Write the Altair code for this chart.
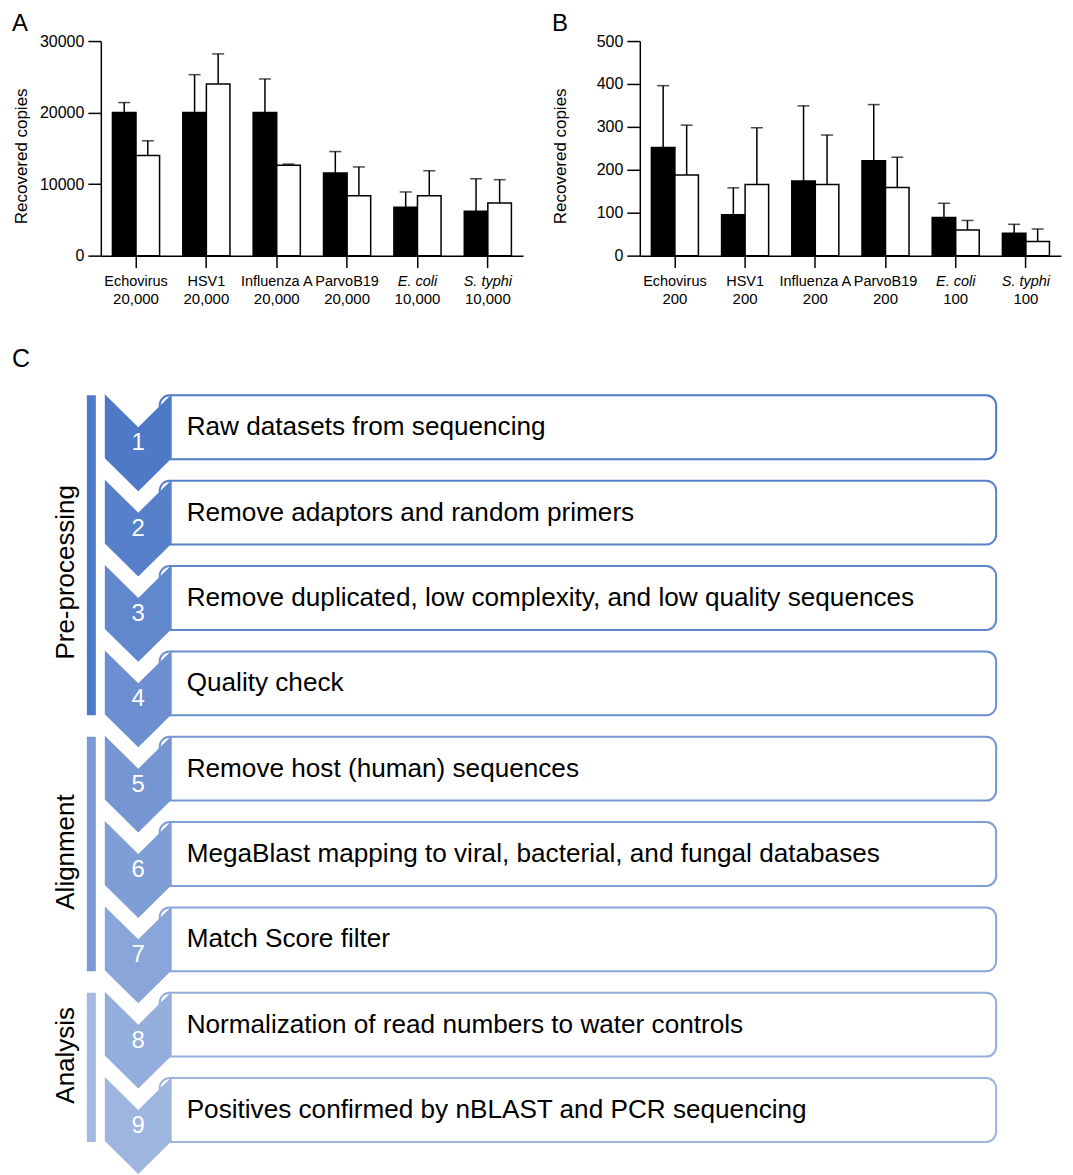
import altair as alt
import pandas as pd

FONT = "Liberation Sans, Arial, Helvetica, sans-serif"

# ---------------- data: panels A and B ----------------
names = ["Echovirus", "HSV1", "Influenza A", "ParvoB19", "E. coli", "S. typhi"]
italic_names = ["E. coli", "S. typhi"]
series = ["solid", "open"]

a_inputs = ["20,000", "20,000", "20,000", "20,000", "10,000", "10,000"]
a_black = [20000, 20000, 20000, 11550, 6750, 6200]
a_black_err = [21400, 25300, 24700, 14550, 8900, 10750]
a_white = [14000, 24000, 12650, 8370, 8370, 7350]
a_white_err = [16050, 28200, 12800, 12400, 11870, 10620]

b_inputs = ["200", "200", "200", "200", "100", "100"]
b_black = [252, 95, 174, 221, 89, 52]
b_black_err = [396, 158, 349, 352, 122, 73]
b_white = [188, 166, 166, 159, 60, 33]
b_white_err = [304, 298, 281, 229, 82, 62]

# ---------------- data: panel C ----------------
steps = [
    "Raw datasets from sequencing",
    "Remove adaptors and random primers",
    "Remove duplicated, low complexity, and low quality sequences",
    "Quality check",
    "Remove host (human) sequences",
    "MegaBlast mapping to viral, bacterial, and fungal databases",
    "Match Score filter",
    "Normalization of read numbers to water controls",
    "Positives confirmed by nBLAST and PCR sequencing",
]
step_colors = ["#4D79C7", "#5780CA", "#6188CD", "#6B8FD0", "#7596D3",
               "#7F9ED6", "#89A5D9", "#93ADDC", "#9EB5E0"]
stages = ["Pre-processing", "Alignment", "Analysis"]
stage_first = [1, 5, 8]
stage_last = [4, 7, 9]
stage_colors = ["#4E7AC7", "#7A99D5", "#A3B8E2"]

# ---------------- layout constants ----------------
PLOT_H = 215
LETTER_DY = -29.5
COUNT_Y = 263.5

C_X0, C_X1 = 101, 1000
C_Y0, C_Y1 = 340, 1175
TOP0, GAP, BOX_H = 396, 85.5, 64
CHEV_L, CHEV_R, NOTCH = 105, 172, 33
BOX_L, BOX_R = 160, 998
TEXT_X = 187
BAR_L, BAR_R = 87, 96
LABEL_X = 66
LABEL_DY = [17, -2, -12]

italic_test = " || ".join("datum.value == '%s'" % n for n in italic_names)


def bar_panel(letter, letter_dx, inputs, black, black_err, white, white_err, ymax, ystep, width):
    rows = []
    for n, b, be, w, we in zip(names, black, black_err, white, white_err):
        rows.append({"name": n, "series": "solid", "value": b, "upper": be})
        rows.append({"name": n, "series": "open", "value": w, "upper": we})
    df = pd.DataFrame(rows)

    xenc = alt.X(
        "name:N", sort=names,
        scale=alt.Scale(paddingInner=0.33, paddingOuter=0.165),
        axis=alt.Axis(
            title=None, labelAngle=0, labelFontSize=14.5, labelPadding=7, tickSize=12,
            labelFont=FONT,
            labelFontStyle={"condition": {"test": italic_test, "value": "italic"}, "value": "normal"},
        ),
    )
    xo = alt.XOffset("series:N", sort=series,
                     scale=alt.Scale(domain=series, paddingInner=0, paddingOuter=0))
    yenc = alt.Y(
        "value:Q",
        scale=alt.Scale(domain=[0, ymax], nice=False, zero=True),
        axis=alt.Axis(
            title="Recovered copies", values=list(range(0, ymax + 1, ystep)), format="d",
            grid=False, tickSize=13, labelPadding=4, labelFontSize=16, labelFont=FONT,
            titleFontSize=17, titleFontWeight="normal", titleFont=FONT,
            titleX=-79, titleY=115, titleAngle=270, titleBaseline="middle", titleAlign="center",
        ),
    )
    base = alt.Chart(df)
    bars = base.mark_bar(stroke="black", strokeWidth=1.5).encode(
        x=xenc, xOffset=xo, y=yenc,
        fill=alt.Fill("series:N", scale=alt.Scale(domain=series, range=["black", "white"]), legend=None),
    )
    xs = alt.X("name:N", sort=names)
    err = base.mark_rule(color="black", strokeWidth=1.5).encode(
        x=xs, xOffset=alt.XOffset("series:N", sort=series), y="value:Q", y2="upper:Q"
    )
    caps = base.mark_tick(color="black", thickness=1.5, size=12).encode(
        x=xs, xOffset=alt.XOffset("series:N", sort=series), y="upper:Q"
    )
    cnt = alt.Chart(pd.DataFrame({"name": names, "input": inputs})).mark_text(
        fontSize=15, baseline="alphabetic", font=FONT, color="black"
    ).encode(x=xs, y=alt.value(COUNT_Y), text="input:N")
    let = alt.Chart(pd.DataFrame({"t": [letter]})).mark_text(
        fontSize=24, align="left", baseline="top", font=FONT, color="black"
    ).encode(x=alt.value(letter_dx), y=alt.value(LETTER_DY), text="t:N")
    return alt.layer(bars, err, caps, cnt, let).properties(width=width, height=PLOT_H)


panel_a = bar_panel("A", -89, a_inputs, a_black, a_black_err, a_white, a_white_err, 30000, 10000, 423)
panel_b = bar_panel("B", -88, b_inputs, b_black, b_black_err, b_white, b_white_err, 500, 100, 422)

# ---------------- panel C (flow chart) ----------------
xs_c = alt.Scale(domain=[C_X0, C_X1], nice=False, zero=False)
ys_c = alt.Scale(domain=[C_Y0, C_Y1], nice=False, zero=False, reverse=True)

step_ids = [str(i + 1) for i in range(len(steps))]
tops = [TOP0 + GAP * i for i in range(len(steps))]

box_df = pd.DataFrame({
    "step": step_ids, "text": steps,
    "x": BOX_L, "x2": BOX_R,
    "y": tops, "y2": [t + BOX_H for t in tops],
    "ty": [t + 32 for t in tops], "ny": [t + 48 for t in tops],
    "tx": TEXT_X, "nx": (CHEV_L + CHEV_R) / 2,
})

chev_rows = []
for sid, t in zip(step_ids, tops):
    chev_rows.append({"step": sid, "x": CHEV_L, "y": t - 1, "y2": t + 63})
    chev_rows.append({"step": sid, "x": (CHEV_L + CHEV_R) / 2, "y": t - 1 + NOTCH, "y2": t + 63 + NOTCH})
    chev_rows.append({"step": sid, "x": CHEV_R, "y": t - 1, "y2": t + 63})
chev_df = pd.DataFrame(chev_rows)

stage_df = pd.DataFrame({
    "stage": stages,
    "x": BAR_L, "x2": BAR_R,
    "y": [TOP0 + GAP * (f - 1) for f in stage_first],
    "y2": [TOP0 + GAP * (l - 1) + BOX_H for l in stage_last],
})
stage_df["ly"] = (stage_df["y"] + stage_df["y2"]) / 2 + LABEL_DY
stage_df["lx"] = LABEL_X

step_color_scale = alt.Scale(domain=step_ids, range=step_colors)

boxes = alt.Chart(box_df).mark_rect(cornerRadius=10, fill="white", strokeWidth=2).encode(
    x=alt.X("x:Q", scale=xs_c, axis=None), x2="x2:Q",
    y=alt.Y("y:Q", scale=ys_c, axis=None), y2="y2:Q",
    stroke=alt.Stroke("step:N", scale=step_color_scale, legend=None),
)
chevrons = alt.Chart(chev_df).mark_area(strokeWidth=0, opacity=1).encode(
    x=alt.X("x:Q", scale=xs_c, axis=None),
    y=alt.Y("y:Q", scale=ys_c, axis=None), y2="y2:Q",
    color=alt.Color("step:N", scale=step_color_scale, legend=None),
    detail="step:N",
)
numbers = alt.Chart(box_df).mark_text(fontSize=24, color="white", font=FONT, baseline="middle").encode(
    x=alt.X("nx:Q", scale=xs_c, axis=None), y=alt.Y("ny:Q", scale=ys_c, axis=None), text="step:N"
)
texts = alt.Chart(box_df).mark_text(fontSize=26.2, color="black", font=FONT, align="left", baseline="middle").encode(
    x=alt.X("tx:Q", scale=xs_c, axis=None), y=alt.Y("ty:Q", scale=ys_c, axis=None), text="text:N"
)
stage_bars = alt.Chart(stage_df).mark_rect().encode(
    x=alt.X("x:Q", scale=xs_c, axis=None), x2="x2:Q",
    y=alt.Y("y:Q", scale=ys_c, axis=None), y2="y2:Q",
    fill=alt.Fill("stage:N", scale=alt.Scale(domain=stages, range=stage_colors), legend=None),
)
stage_labels = alt.Chart(stage_df).mark_text(
    fontSize=26, color="black", font=FONT, angle=270, align="center", baseline="middle"
).encode(
    x=alt.X("lx:Q", scale=xs_c, axis=None), y=alt.Y("ly:Q", scale=ys_c, axis=None), text="stage:N"
)
c_letter = alt.Chart(pd.DataFrame({"t": ["C"], "x": [12], "y": [348]})).mark_text(
    fontSize=25, color="black", font=FONT, align="left", baseline="top"
).encode(x=alt.X("x:Q", scale=xs_c, axis=None), y=alt.Y("y:Q", scale=ys_c, axis=None), text="t:N")

panel_c = alt.layer(boxes, chevrons, numbers, texts, stage_bars, stage_labels, c_letter).properties(
    width=C_X1 - C_X0, height=C_Y1 - C_Y0
).resolve_scale(color="independent", fill="independent", stroke="independent")

top_row = alt.hconcat(panel_a, panel_b, spacing=29).resolve_scale(
    x="independent", y="independent", xOffset="independent"
)

chart = alt.vconcat(top_row, panel_c, spacing=32).resolve_scale(
    x="independent", y="independent", color="independent", fill="independent", stroke="independent"
).properties(
    padding={"left": 4, "top": 2, "right": 4, "bottom": 0}
).configure_view(stroke=None).configure_axis(
    domainColor="black", domainWidth=1.5, tickColor="black", tickWidth=1.5,
    labelColor="black", titleColor="black", grid=False
)

chart.save("out.html", embed_options={"renderer": "svg", "actions": False})
